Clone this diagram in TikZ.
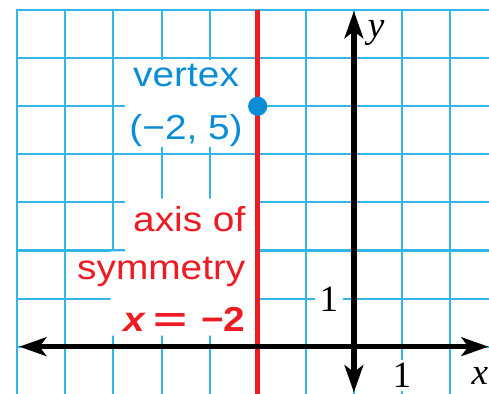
\documentclass[tikz,border=0pt]{standalone}
\usepackage{fontspec}
\usepackage{tikz}
\usetikzlibrary{arrows.meta}

\newfontfamily\labelfont[FakeStretch=1.12]{Liberation Sans}
\newfontfamily\numfont{Liberation Serif}
\definecolor{gridblue}{RGB}{51,181,232}
\definecolor{vertexblue}{RGB}{10,141,214}
\definecolor{axisred}{RGB}{237,28,36}

\begin{document}
\begin{tikzpicture}[
    gridline/.style={gridblue, line width=1.2pt, line cap=rect},
    axisline/.style={line width=3.2pt,
      {Stealth[length=16pt,width=11pt,inset=4pt]}-{Stealth[length=16pt,width=11pt,inset=4pt]}},
    vertextext/.style={vertexblue, inner sep=0pt, anchor=base,
      font=\labelfont\fontsize{20.5}{24}\selectfont},
    axistext/.style={axisred, inner sep=0pt, anchor=base east,
      font=\labelfont\fontsize{20.5}{24}\selectfont},
    ticklabel/.style={fill=white, inner xsep=3pt, inner ysep=2pt,
      font=\numfont\fontsize{22}{24}\selectfont},
    axisname/.style={inner sep=0pt, anchor=base,
      font=\numfont\itshape\fontsize{22}{24}\selectfont}
  ]
    \useasboundingbox (-7.36,-0.977) rectangle (2.81,7.21);

    % Grid
    \foreach \x in {-7,...,2}
      \draw[gridline] (\x,-1) -- (\x,7);
    \foreach \y in {-1,...,7}
      \draw[gridline] (-7,\y) -- (3,\y);

    % White patches behind the labels
    \fill[white] (-4.76,4.16) rectangle (-2,5.97);
    \fill[white] (-4.76,3.08) -- (-2,3.08) -- (-2,0.23) -- (-5.06,0.23)
      -- (-5.06,1.98) -- (-4.76,1.98) -- cycle;

    % Axis of symmetry
    \coordinate (symtop) at (-2,7);
    \coordinate (symbot) at (-2,-1);
    \draw[axisred, line width=3pt] (symtop) -- (symbot);

    % Axes
    \coordinate (xleft) at (-6.96,0);
    \coordinate (xright) at (2.8,0);
    \coordinate (ybot) at (0,-0.95);
    \coordinate (ytop) at (0,6.98);
    \draw[axisline] (xleft) -- (xright);
    \draw[axisline] (ybot) -- (ytop);

    \node[axisname] (xname) at (2.62,-0.79) {x};
    \node[axisname] (yname) at (0.46,6.42) {y};
    \node[ticklabel] (onex) at (1,-0.6) {1};
    \node[ticklabel] (oney) at (-0.52,0.98) {1};

    % Vertex
    \node[circle, fill=vertexblue, inner sep=0pt, minimum size=0.4cm] (vertex) at (-2,5) {};
    \node[vertextext] (vtxname) at (-3.49,5.41) {vertex};
    \node[vertextext] (vtxpoint) at (-3.49,4.30) {(−2, 5)};

    % Labels of the axis of symmetry
    \node[axistext] (sym1) at (-2.25,2.39) {axis of};
    \node[axistext] (sym2) at (-2.25,1.39) {symmetry};
    \node[axistext] (sym3) at (-2.25,0.31)
      {\bfseries\itshape x\hspace{0.25em}\upshape\scalebox{1.5}[1]{=}\hspace{0.4em}−2};
  \end{tikzpicture}
\end{document}
